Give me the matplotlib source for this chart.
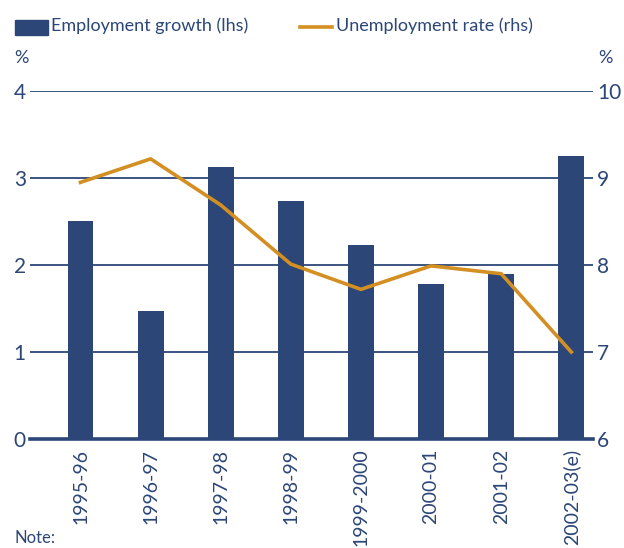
import numpy as np
import matplotlib.pyplot as plt

# data
years = ['1995-96', '1996-97', '1997-98', '1998-99', '1999-2000',
         '2000-01', '2001-02', '2002-03(e)']
emp_growth = [2.51, 1.47, 3.13, 2.74, 2.23, 1.78, 1.90, 3.25]
unemp_rate = [8.95, 9.22, 8.69, 8.01, 7.72, 7.99, 7.90, 7.00]

navy = '#2B4677'
orange = '#D38F22'
plt.rcParams['font.family'] = ['Lato', 'DejaVu Sans']

fig = plt.figure(figsize=(6.24, 5.48), dpi=100)
ax = fig.add_axes([30/624, 1 - 439/548, (593-30)/624, (439-91)/548])
ax2 = ax.twinx()

x = np.arange(len(years))
ax.bar(x, emp_growth, width=0.37, color=navy, zorder=3)
ax.set_ylim(0, 4)
ax.set_xlim(-0.72, 7.31)
ax.set_yticks([0, 1, 2, 3, 4])
for v in [1, 2, 3, 4]:
    ax.axhline(v, color=navy, lw=1.3, zorder=1)
ax.axhline(0, color=navy, lw=2.6, zorder=4, clip_on=False)

ax2.plot(x, unemp_rate, color=orange, lw=2.6, zorder=5)
ax2.set_ylim(6, 10)
ax2.set_yticks([6, 7, 8, 9, 10])
ax2.set_zorder(ax.get_zorder() + 1)
ax2.patch.set_visible(False)

for a in (ax, ax2):
    for s in a.spines.values():
        s.set_visible(False)
ax.tick_params(axis='y', length=0, pad=3, labelsize=15, labelcolor=navy)
ax2.tick_params(axis='y', length=0, pad=3, labelsize=15, labelcolor=navy)
ax.set_xticks(x)
ax.set_xticklabels(years, rotation=90, fontsize=14, color=navy, va='top')
ax.tick_params(axis='x', length=0, pad=7)

fig.text(14/624, 1 - 58/548, '%', fontsize=13, color=navy, va='center')
fig.text(598/624, 1 - 58/548, '%', fontsize=13, color=navy, va='center')

# legend drawn by hand at the top
fig.patches.append(plt.Rectangle((15/624, 1 - 35/548), 33/624, 15/548,
                                 transform=fig.transFigure, color=navy))
fig.text(51/624, 1 - 26/548, 'Employment growth (lhs)', fontsize=13,
         color=navy, va='center')
fig.lines.append(plt.Line2D([300/624, 332/624], [1 - 27/548, 1 - 27/548],
                            transform=fig.transFigure, color=orange, lw=2.6))
fig.text(336/624, 1 - 26/548, 'Unemployment rate (rhs)', fontsize=13,
         color=navy, va='center')

fig.text(14/624, 2/548, 'Note:', fontsize=12, color=navy, va='bottom')

fig.savefig('out.png', dpi=100)
